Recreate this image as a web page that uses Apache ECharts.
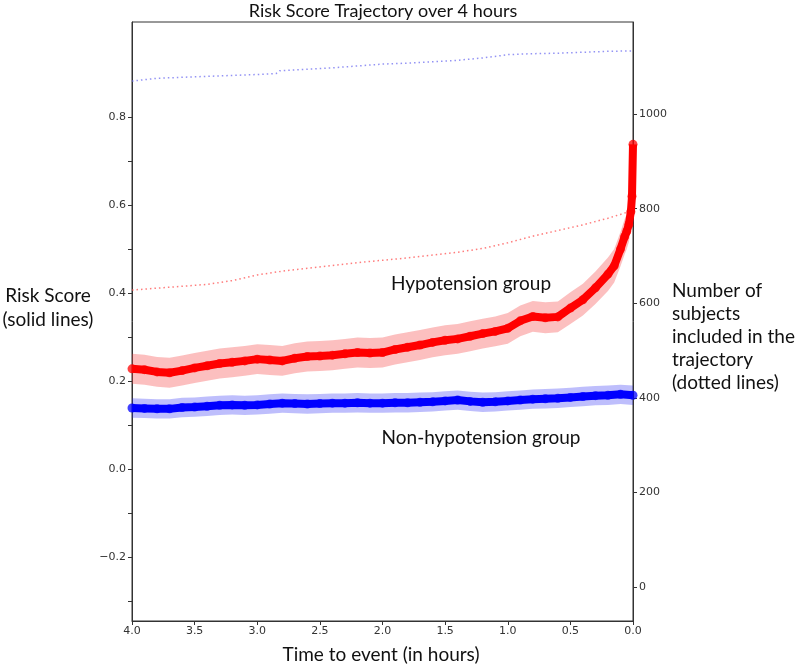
<!DOCTYPE html>
<html><head><meta charset="utf-8">
<script src="https://cdn.jsdelivr.net/npm/echarts@6/dist/echarts.min.js"></script>
<style>html,body{margin:0;padding:0;background:#fff}#c{width:797px;height:664px}</style>
</head><body><div id="c"></div>
<script>
// ---- data ----
const redTime = [4.0,3.9,3.8,3.7,3.6,3.5,3.4,3.3,3.2,3.1,3.0,2.9,2.8,2.7,2.6,2.5,2.4,2.3,2.2,2.1,2.0,1.9,1.8,1.7,1.6,1.5,1.4,1.3,1.2,1.1,1.0,0.9,0.8,0.7,0.6,0.5,0.4,0.3,0.2,0.15,0.1,0.067,0.05,0.033,0.017,0.008,0.0];
const redRisk = [0.228,0.226,0.221,0.219,0.224,0.230,0.235,0.240,0.243,0.246,0.250,0.248,0.246,0.252,0.256,0.257,0.259,0.262,0.265,0.264,0.265,0.272,0.277,0.282,0.288,0.293,0.296,0.302,0.308,0.313,0.320,0.337,0.347,0.344,0.346,0.366,0.385,0.412,0.443,0.462,0.500,0.528,0.540,0.556,0.585,0.620,0.738];
const redBand = [0.034,0.034,0.034,0.034,0.034,0.034,0.034,0.034,0.034,0.034,0.034,0.034,0.034,0.034,0.034,0.034,0.034,0.034,0.034,0.034,0.034,0.034,0.034,0.034,0.034,0.034,0.034,0.034,0.034,0.034,0.035,0.035,0.035,0.035,0.035,0.036,0.036,0.037,0.038,0.038,0.039,0.040,0.040,0.040,0.040,0.040,0.040];
const blueTime = [4.0,3.9,3.8,3.7,3.6,3.5,3.4,3.3,3.2,3.1,3.0,2.9,2.8,2.7,2.6,2.5,2.4,2.3,2.2,2.1,2.0,1.9,1.8,1.7,1.6,1.5,1.4,1.3,1.2,1.1,1.0,0.9,0.8,0.7,0.6,0.5,0.4,0.3,0.2,0.1,0.0];
const blueRisk = [0.139,0.138,0.137,0.137,0.140,0.141,0.143,0.145,0.146,0.145,0.146,0.148,0.150,0.149,0.148,0.149,0.150,0.150,0.151,0.150,0.150,0.151,0.151,0.152,0.153,0.155,0.157,0.154,0.152,0.153,0.155,0.157,0.159,0.160,0.161,0.163,0.165,0.167,0.168,0.170,0.168];
const blueBand = [0.022,0.022,0.022,0.022,0.022,0.022,0.022,0.022,0.022,0.022,0.022,0.022,0.022,0.022,0.022,0.022,0.022,0.022,0.022,0.022,0.022,0.022,0.022,0.022,0.022,0.022,0.022,0.022,0.022,0.022,0.022,0.022,0.022,0.022,0.022,0.022,0.022,0.022,0.022,0.022,0.022];
const blueCountTime = [4.0,3.8,3.6,3.4,3.2,3.0,2.85,2.82,2.6,2.4,2.2,2.0,1.8,1.6,1.4,1.2,1.05,1.0,0.8,0.6,0.4,0.2,0.0];
const blueCount = [1070,1076,1078,1080,1082,1084,1086,1092,1095,1098,1102,1106,1108,1111,1114,1119,1124,1126,1128,1129,1131,1133,1134];
const redCountTime = [4.0,3.8,3.6,3.4,3.2,3.0,2.8,2.6,2.4,2.2,2.0,1.8,1.6,1.4,1.2,1.0,0.8,0.6,0.4,0.2,0.1,0.0];
const redCount = [628,632,636,640,648,660,668,674,680,686,691,696,702,708,716,728,742,754,766,780,788,797];
const xTicks = [4.0,3.5,3.0,2.5,2.0,1.5,1.0,0.5,0.0];
const leftTicks = [-0.3,-0.2,-0.1,0.0,0.1,0.2,0.3,0.4,0.5,0.6,0.7,0.8];
const leftLabels = [-0.2,0.0,0.2,0.4,0.6,0.8];
const rightTicks = [0,200,400,600,800,1000];

// ---- build ----
const pairs = (t, v) => t.map((x, i) => [x, v[i]]);
function bandSeries(time, mid, half, color) {
  return {
    type: 'custom', silent: true, z: 1, clip: true,
    data: time.map((t, i) => [t, mid[i] - half[i], mid[i] + half[i]]),
    encode: {x: 0, y: [1, 2]},
    renderItem: function (params, api) {
      if (params.dataIndex !== 0) return null;
      const top = [], bot = [];
      for (let i = 0; i < time.length; i++) {
        top.push(api.coord([time[i], mid[i] + half[i]]));
        bot.push(api.coord([time[i], mid[i] - half[i]]));
      }
      return {type: 'polygon', shape: {points: top.concat(bot.reverse())}, style: {fill: color}};
    }
  };
}

const tickFont = {fontFamily: 'DejaVu Sans', fontSize: 11, color: '#333'};
const fmt = v => (Math.abs(v) < 1e-9 ? '0.0' : v.toFixed(1)).replace('-', '\u2212');
const axisLine = {show: true, onZero: false, lineStyle: {color: '#333'}};

const chart = echarts.init(document.getElementById('c'), null, {renderer: 'canvas'});
chart.setOption({
  animation: false,
  backgroundColor: '#fff',
  grid: {left: 132, right: 164, top: 22, bottom: 43, show: true, borderColor: '#333', borderWidth: 1, containLabel: false},
  xAxis: {
    type: 'value', min: 0, max: 4, inverse: true,
    axisLine: axisLine,
    axisTick: {show: true, customValues: xTicks, length: 4, lineStyle: {color: '#333'}},
    axisLabel: Object.assign({customValues: xTicks, margin: 5, formatter: fmt}, tickFont),
    splitLine: {show: false}
  },
  yAxis: [{
    type: 'value', min: -0.345, max: 1.016, position: 'left',
    axisLine: axisLine,
    axisTick: {show: true, customValues: leftTicks, length: 4, lineStyle: {color: '#333'}},
    axisLabel: Object.assign({customValues: leftLabels, margin: 6, formatter: fmt}, tickFont),
    splitLine: {show: false}
  }, {
    type: 'value', min: -72, max: 1195, position: 'right',
    axisLine: axisLine,
    axisTick: {show: true, customValues: rightTicks, length: 4, lineStyle: {color: '#333'}},
    axisLabel: Object.assign({customValues: rightTicks, margin: 6, formatter: v => String(v)}, tickFont),
    splitLine: {show: false}
  }],
  series: [
    bandSeries(redTime, redRisk, redBand, 'rgba(245,60,60,0.33)'),
    bandSeries(blueTime, blueRisk, blueBand, 'rgba(40,40,245,0.3)'),
    {type: 'line', name: 'Hypotension', data: pairs(redTime, redRisk), symbol: 'circle', symbolSize: 9, showSymbol: true,
     lineStyle: {color: '#ff0000', width: 8}, itemStyle: {color: 'rgba(255,0,0,0.75)', borderWidth: 0}, z: 3},
    {type: 'line', name: 'Non-hypotension', data: pairs(blueTime, blueRisk), symbol: 'circle', symbolSize: 9, showSymbol: true,
     lineStyle: {color: '#0000ff', width: 8}, itemStyle: {color: 'rgba(0,0,255,0.75)', borderWidth: 0}, z: 3},
    {type: 'line', name: 'Hypo count', yAxisIndex: 1, data: pairs(redCountTime, redCount), symbol: 'none',
     lineStyle: {color: 'rgba(255,80,80,0.75)', width: 1.5, type: [1.5, 3]}, z: 2},
    {type: 'line', name: 'Non-hypo count', yAxisIndex: 1, data: pairs(blueCountTime, blueCount), symbol: 'none',
     lineStyle: {color: 'rgba(110,110,240,0.75)', width: 1.5, type: [1.5, 3]}, z: 2}
  ],
  graphic: [
    {type: 'text', x: 383, y: 11, style: {text: 'Risk Score Trajectory over 4 hours', font: '18px Lato', fill: '#111', textAlign: 'center', textVerticalAlign: 'middle'}},
    {type: 'text', x: 381, y: 655, style: {text: 'Time to event (in hours)', font: '19px Lato', fill: '#111', textAlign: 'center', textVerticalAlign: 'middle'}},
    {type: 'text', x: 48, y: 308, style: {text: 'Risk Score\n(solid lines)', font: '19px Lato', lineHeight: 24, fill: '#111', textAlign: 'center', textVerticalAlign: 'middle'}},
    {type: 'text', x: 672, y: 337, style: {text: 'Number of\nsubjects\nincluded in the\ntrajectory\n(dotted lines)', font: '19px Lato', lineHeight: 23, fill: '#111', textAlign: 'left', textVerticalAlign: 'middle'}},
    {type: 'text', x: 471, y: 284, style: {text: 'Hypotension group', font: '19px Lato', fill: '#111', textAlign: 'center', textVerticalAlign: 'middle'}},
    {type: 'text', x: 481, y: 438, style: {text: 'Non-hypotension group', font: '19px Lato', fill: '#111', textAlign: 'center', textVerticalAlign: 'middle'}}
  ]
});
</script></body></html>
